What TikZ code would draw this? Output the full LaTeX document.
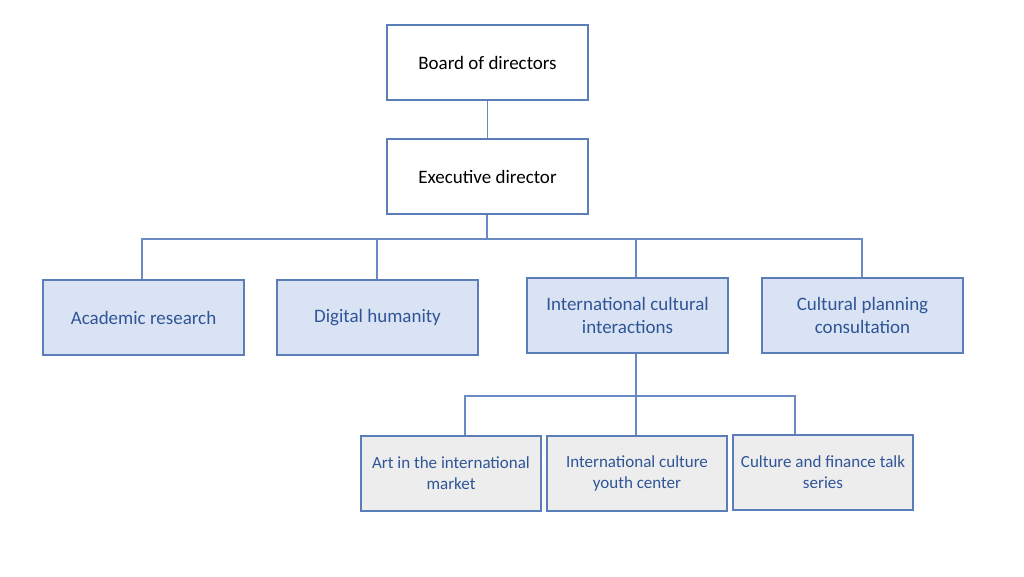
\documentclass[tikz,border=0pt]{standalone}
\usepackage{fontspec}
\setmainfont{Carlito}
\definecolor{bordc}{HTML}{5B7DB8}
\definecolor{linec}{HTML}{6A8AC4}
\definecolor{deptfill}{HTML}{DAE3F3}
\definecolor{subfill}{HTML}{EDEDED}
\definecolor{depttext}{HTML}{2F5597}
\begin{document}
\begin{tikzpicture}[x=1pt,y=-1pt,
  topbox/.style={draw=bordc,line width=1.6pt,fill=white,minimum width=201pt,minimum height=75pt,inner sep=0pt,align=center,font=\fontsize{19}{23}\selectfont,text=black},
  deptbox/.style={draw=bordc,line width=1.6pt,fill=deptfill,minimum width=201pt,minimum height=75pt,inner sep=0pt,align=center,font=\fontsize{19}{23}\selectfont,text=depttext},
  subbox/.style={draw=bordc,line width=1.2pt,fill=subfill,minimum width=180pt,minimum height=75pt,inner sep=0pt,align=center,font=\fontsize{17}{21}\selectfont,text=depttext},
  conn/.style={draw=linec,line width=1.2pt}]
\useasboundingbox (0,0) rectangle (1024,576);
\node[topbox] (board) at (487.5,62.5) {Board of directors};
\node[topbox] (exec) at (487.5,176.5) {Executive director};
\node[deptbox] (acad) at (143.5,317.5) {Academic research};
\node[deptbox] (digi) at (377.5,317.5) {Digital humanity};
\node[deptbox] (intl) at (627.5,315.5) {International cultural\\interactions};
\node[deptbox] (plan) at (862.5,315.5) {Cultural planning\\consultation};
\node[subbox] (art) at (451,473.5) {Art in the international\\market};
\node[subbox] (youth) at (637,473.5) {International culture\\youth center};
\node[subbox] (fin) at (823,472.5) {Culture and finance talk\\series};
\coordinate (bus) at (487,239);
\coordinate (bus2) at (636,396);
\draw[conn] (board) -- (exec);
\draw[conn] (exec.south -| bus) -- (bus);
\draw[conn] (bus) -- (142,239) -- (acad.north -| 142,0);
\draw[conn] (bus) -- (377,239) -- (digi.north -| 377,0);
\draw[conn] (bus) -- (636,239) -- (intl.north -| 636,0);
\draw[conn] (bus) -- (862,239) -- (plan.north -| 862,0);
\draw[conn] (intl.south -| bus2) -- (bus2);
\draw[conn] (bus2) -- (465,396) -- (art.north -| 465,0);
\draw[conn] (bus2) -- (youth.north -| bus2);
\draw[conn] (bus2) -- (795,396) -- (fin.north -| 795,0);
\end{tikzpicture}
\end{document}
